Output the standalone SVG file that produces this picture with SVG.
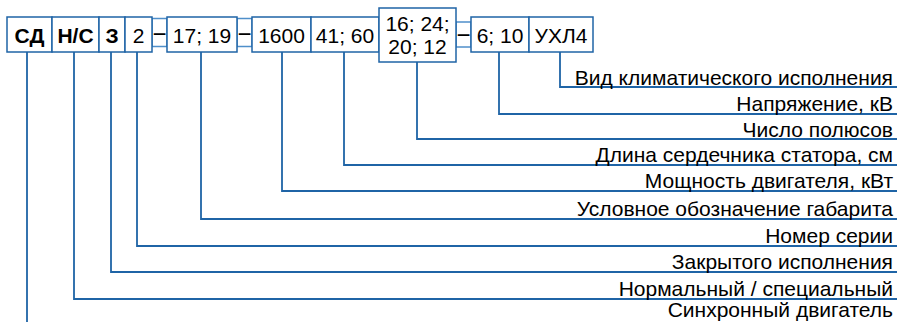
<svg xmlns="http://www.w3.org/2000/svg" width="897" height="322" viewBox="0 0 897 322">
<style>
.box{fill:#fff;stroke:#1f64a6;stroke-width:1.5}
.dbox{fill:#fff;stroke:#4f8fca;stroke-width:1.5}
.t{font-family:"Liberation Sans",Arial,sans-serif;font-size:21px;fill:#000;text-anchor:middle}
.m{font-family:"Liberation Sans",Arial,sans-serif;font-size:24px;fill:#000;text-anchor:middle}
.b{font-weight:bold}
.lbl{font-family:"Liberation Sans",Arial,sans-serif;font-size:21px;fill:#000;text-anchor:end}
.ln{fill:none;stroke:#1f64a6;stroke-width:1.8}
</style>
<rect width="897" height="322" fill="#fff"/>
<g id="connectors">
<path class="ln" d="M27 52V322"/>
<path class="ln" d="M74 52V299H897"/>
<path class="ln" d="M111 52V272H897"/>
<path class="ln" d="M137 52V246H897"/>
<path class="ln" d="M201 52V219H897"/>
<path class="ln" d="M282 52V191H897"/>
<path class="ln" d="M344 52V165H897"/>
<path class="ln" d="M417 62V139H897"/>
<path class="ln" d="M499 52V114H897"/>
<path class="ln" d="M560 52V87H897"/>
</g>
<g id="d1"><rect class="dbox" x="152" y="18.5" width="15" height="28"/><text class="m" x="159.5" y="42">−</text></g>
<g id="d2"><rect class="dbox" x="237" y="18.5" width="15" height="28"/><text class="m" x="244.5" y="42">−</text></g>
<g id="d3"><rect class="dbox" x="456" y="22" width="15" height="25"/><text class="m" x="463.5" y="43">−</text></g>
<g id="n-sd"><rect class="box" x="7" y="17" width="45" height="35"/><text class="t b" x="29.5" y="42.5">СД</text></g>
<g id="n-ns"><rect class="box" x="52" y="17" width="47" height="35"/><text class="t b" x="75.5" y="42.5">Н/С</text></g>
<g id="n-z"><rect class="box" x="99" y="17" width="26" height="35"/><text class="t b" x="112" y="42.5">З</text></g>
<g id="n-2"><rect class="box" x="125" y="17" width="27" height="35"/><text class="t" x="138.5" y="42.5">2</text></g>
<g id="n-1719"><rect class="box" x="167" y="17" width="70" height="35"/><text class="t" x="202" y="42.5">17; 19</text></g>
<g id="n-1600"><rect class="box" x="252" y="17" width="59" height="35"/><text class="t" x="281.5" y="42.5">1600</text></g>
<g id="n-4160"><rect class="box" x="311" y="17" width="68" height="35"/><text class="t" x="345" y="42.5">41; 60</text></g>
<g id="n-poles"><rect class="box" x="379" y="8" width="77" height="54"/><text class="t" x="417.5" y="31">16; 24;</text><text class="t" x="417.5" y="54">20; 12</text></g>
<g id="n-610"><rect class="box" x="471" y="17" width="58" height="35"/><text class="t" x="500" y="42.5">6; 10</text></g>
<g id="n-uhl"><rect class="box" x="529" y="17" width="64" height="35"/><text class="t" x="561" y="42.5">УХЛ4</text></g>
<g id="labels">
<text class="lbl" x="893" y="84.5">Вид климатического исполнения</text>
<text class="lbl" x="893" y="111">Напряжение, кВ</text>
<text class="lbl" x="893" y="136.5">Число полюсов</text>
<text class="lbl" x="893" y="162">Длина сердечника статора, см</text>
<text class="lbl" x="893" y="188">Мощность двигателя, кВт</text>
<text class="lbl" x="893" y="216">Условное обозначение габарита</text>
<text class="lbl" x="893" y="243">Номер серии</text>
<text class="lbl" x="893" y="269">Закрытого исполнения</text>
<text class="lbl" x="893" y="296">Нормальный / специальный</text>
<text class="lbl" x="893" y="317">Синхронный двигатель</text>
</g>
</svg>
